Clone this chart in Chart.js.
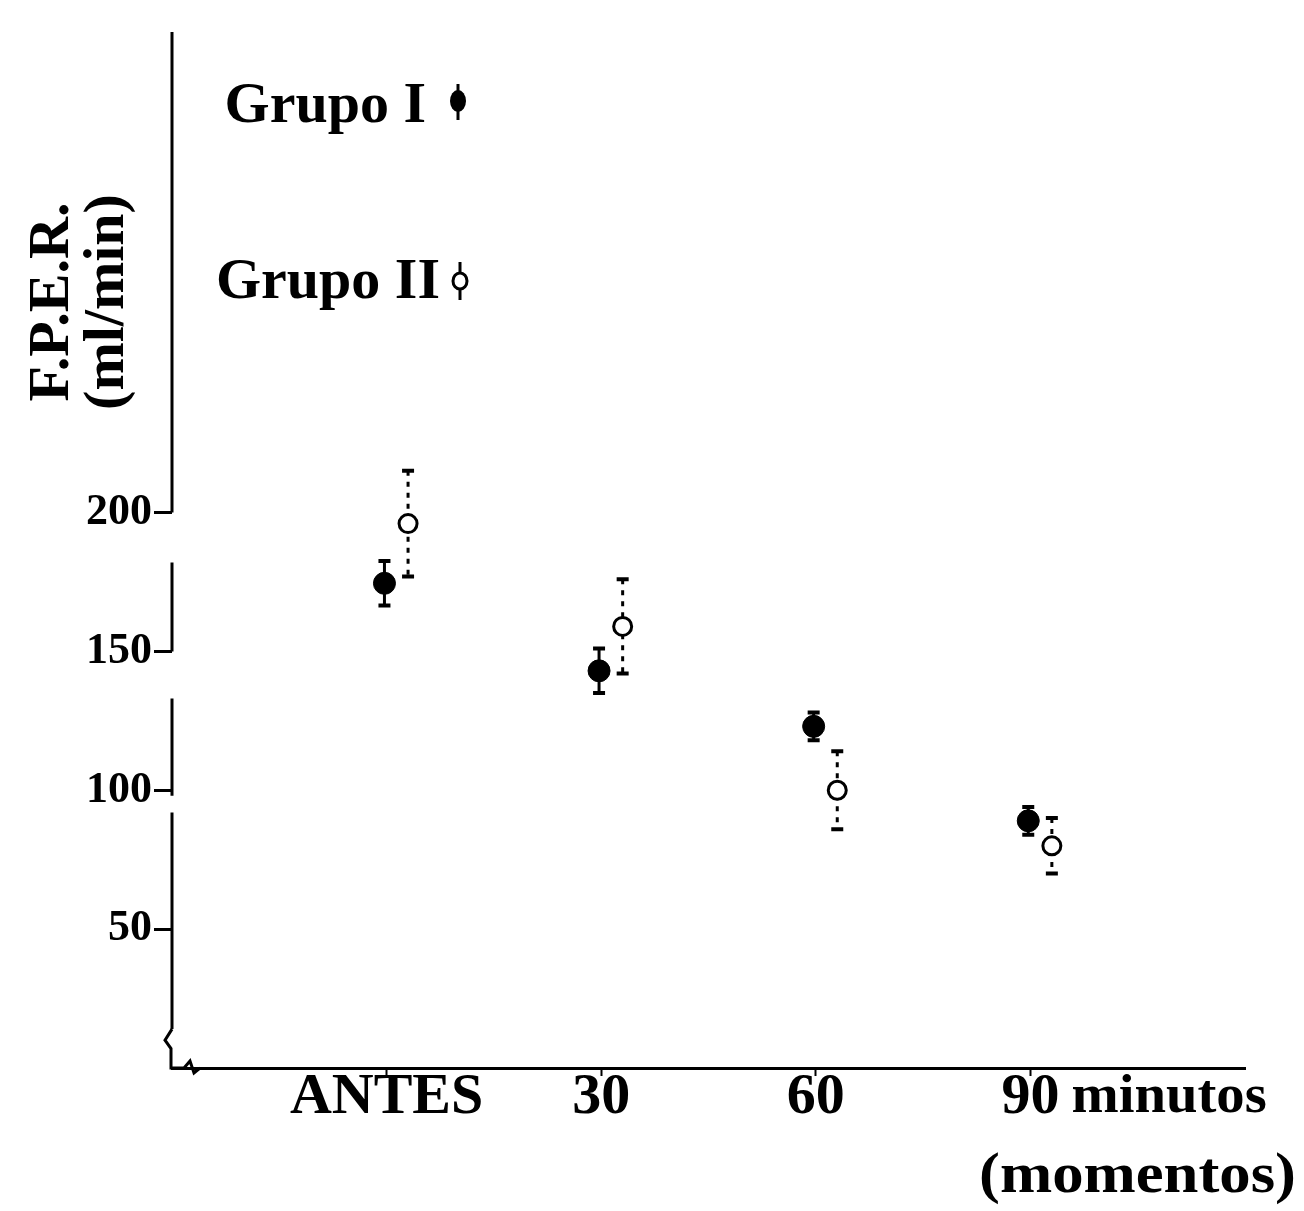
<!DOCTYPE html>
<html>
<head>
<meta charset="utf-8">
<script src="https://cdn.jsdelivr.net/npm/chart.js@4/dist/chart.umd.min.js"></script>
<style>
  html, body { margin: 0; padding: 0; background: #fff; }
  #wrap { width: 1304px; height: 1211px; }
</style>
</head>
<body>
<div id="wrap"><canvas id="c" width="1304" height="1211"></canvas></div>
<script>
// ---- data ----
const CATEGORIES = ['ANTES', '30', '60', '90'];
const GRUPO_I = [174.5, 143, 123, 89];
const GRUPO_I_ERR = [8, 8, 5, 5];
const GRUPO_II = [196, 159, 100, 80];
const GRUPO_II_ERR = [19, 17, 14, 10];
const Y_TICKS = [50, 100, 150, 200];
const LEGEND_LABELS = ['Grupo I', 'Grupo II'];
const X_UNIT = 'minutos';
const X_TITLE = '(momentos)';
const Y_TITLE = ['F.P.E.R.', '(ml/min)'];

// ---- style ----
const FONT = 'Liberation Serif';
const OFFSET_I = -0.01;
const OFFSET_II = 0.1;
const INK = '#000';

function pts(vals, off) {
  return vals.map((v, i) => ({ x: i + off, y: v }));
}

const errorBars = {
  id: 'errorBars',
  beforeDatasetsDraw(chart) {
    const ctx = chart.ctx;
    const xs = chart.scales.x, ys = chart.scales.y;
    const sets = [
      { vals: GRUPO_I, errs: GRUPO_I_ERR, off: OFFSET_I, dash: [] },
      { vals: GRUPO_II, errs: GRUPO_II_ERR, off: OFFSET_II, dash: [5, 6] }
    ];
    ctx.save();
    ctx.strokeStyle = INK;
    sets.forEach(s => {
      s.vals.forEach((v, i) => {
        const px = xs.getPixelForValue(i + s.off);
        const top = ys.getPixelForValue(v + s.errs[i]);
        const bot = ys.getPixelForValue(v - s.errs[i]);
        ctx.lineWidth = 3;
        ctx.setLineDash(s.dash);
        ctx.beginPath();
        ctx.moveTo(px, top); ctx.lineTo(px, bot);
        ctx.stroke();
        ctx.setLineDash([]);
        ctx.lineWidth = 4;
        ctx.beginPath();
        ctx.moveTo(px - 6, top); ctx.lineTo(px + 6, top);
        ctx.moveTo(px - 6, bot); ctx.lineTo(px + 6, bot);
        ctx.stroke();
      });
    });
    ctx.restore();
  }
};

function stretchedText(ctx, text, x, y, sx, align) {
  ctx.save();
  const w = ctx.measureText(text).width * sx;
  const left = align === 'right' ? x - w : x;
  ctx.translate(left, y);
  ctx.scale(sx, 1);
  ctx.textAlign = 'left';
  ctx.fillText(text, 0, 0);
  ctx.restore();
}

const decorations = {
  id: 'decorations',
  afterDraw(chart) {
    const ctx = chart.ctx;
    const xs = chart.scales.x, ys = chart.scales.y;
    const area = chart.chartArea;
    const ax = area.left;
    ctx.save();
    ctx.strokeStyle = INK;
    ctx.fillStyle = INK;
    ctx.lineWidth = 3;
    // y axis line drawn in pieces (as in the scanned original)
    const segs = [[ys.max, 200], [182, 150], [133, 98], [92, 14]];
    ctx.beginPath();
    segs.forEach(s => {
      ctx.moveTo(ax, ys.getPixelForValue(s[0]));
      ctx.lineTo(ax, ys.getPixelForValue(s[1]));
    });
    ctx.stroke();
    // axis break squiggle
    const y0 = ys.getPixelForValue(0);
    ctx.beginPath();
    ctx.moveTo(ax, ys.getPixelForValue(14));
    ctx.lineTo(ax - 7, ys.getPixelForValue(10));
    ctx.lineTo(ax - 1, ys.getPixelForValue(7));
    ctx.lineTo(ax - 1, y0);
    ctx.lineTo(ax + 12, y0);
    ctx.lineTo(ax + 18, y0 - 7);
    ctx.lineTo(ax + 22, y0 + 5);
    ctx.lineTo(ax + 28, y0);
    ctx.stroke();

    // y title
    [[Y_TITLE[0], 53], [Y_TITLE[1], 108]].forEach(t => {
      ctx.save();
      ctx.font = 'bold 58px "' + FONT + '"';
      ctx.textAlign = 'center';
      ctx.textBaseline = 'middle';
      ctx.translate(t[1], 302);
      ctx.rotate(-Math.PI / 2);
      ctx.fillText(t[0], 0, 0);
      ctx.restore();
    });

    // x unit (after the last tick label) and title
    ctx.font = 'bold 58px "' + FONT + '"';
    ctx.textBaseline = 'alphabetic';
    const lastTick = xs.getPixelForValue(CATEGORIES.length - 1);
    const wLast = ctx.measureText(CATEGORIES[CATEGORIES.length - 1]).width;
    ctx.font = 'bold 54px "' + FONT + '"';
    stretchedText(ctx, X_UNIT, lastTick + wLast / 2 + 12, 1112, 1.05, 'left');
    ctx.font = 'bold 56px "' + FONT + '"';
    stretchedText(ctx, X_TITLE, 1296, 1192, 1.12, 'right');

    // legend
    ctx.font = 'bold 58px "' + FONT + '"';
    ctx.textAlign = 'right';
    ctx.fillText(LEGEND_LABELS[0], 426, 122);
    ctx.fillText(LEGEND_LABELS[1], 440, 298);
    // legend markers
    ctx.lineWidth = 3;
    ctx.beginPath();
    ctx.moveTo(458, 84); ctx.lineTo(458, 120);
    ctx.stroke();
    ctx.beginPath();
    ctx.ellipse(458, 101, 8, 11, 0, 0, Math.PI * 2);
    ctx.fill();
    ctx.beginPath();
    ctx.moveTo(460, 262); ctx.lineTo(460, 300);
    ctx.stroke();
    ctx.beginPath();
    ctx.fillStyle = '#fff';
    ctx.ellipse(460, 281, 7, 8, 0, 0, Math.PI * 2);
    ctx.fill();
    ctx.stroke();
    ctx.restore();
  }
};

new Chart(document.getElementById('c'), {
  type: 'scatter',
  data: {
    datasets: [
      {
        label: LEGEND_LABELS[0],
        data: pts(GRUPO_I, OFFSET_I),
        pointStyle: 'circle',
        pointRadius: 11,
        pointBackgroundColor: INK,
        pointBorderColor: INK,
        pointBorderWidth: 1
      },
      {
        label: LEGEND_LABELS[1],
        data: pts(GRUPO_II, OFFSET_II),
        pointStyle: 'circle',
        pointRadius: 9,
        pointBackgroundColor: '#fff',
        pointBorderColor: INK,
        pointBorderWidth: 3
      }
    ]
  },
  options: {
    responsive: false,
    animation: false,
    events: [],
    layout: { padding: { left: 0, top: 32, right: 59, bottom: 0 } },
    plugins: { legend: { display: false }, tooltip: { enabled: false } },
    scales: {
      x: {
        type: 'linear',
        min: -1,
        max: 4,
        afterBuildTicks: s => { s.ticks = CATEGORIES.map((c, i) => ({ value: i })); },
        afterFit: s => { s.height = 143; },
        ticks: {
          autoSkip: false,
          maxRotation: 0,
          padding: -13,
          color: INK,
          font: { family: FONT, size: 58, weight: 'bold' },
          callback: v => CATEGORIES[Math.round(v)]
        },
        grid: { display: true, drawOnChartArea: false, drawTicks: true, tickLength: 8, tickWidth: 2, tickColor: INK },
        border: { display: true, color: INK, width: 3 }
      },
      y: {
        type: 'linear',
        min: 0,
        max: 373,
        afterBuildTicks: s => { s.ticks = Y_TICKS.map(v => ({ value: v })); },
        afterFit: s => { s.width = 172; },
        ticks: {
          padding: 2,
          color: INK,
          font: { family: FONT, size: 44, weight: 'bold' },
          callback: v => String(v)
        },
        grid: { display: true, drawOnChartArea: false, drawTicks: true, tickLength: 18, tickWidth: 3, tickColor: INK },
        border: { display: false }
      }
    }
  },
  plugins: [errorBars, decorations]
});
</script>
</body>
</html>
